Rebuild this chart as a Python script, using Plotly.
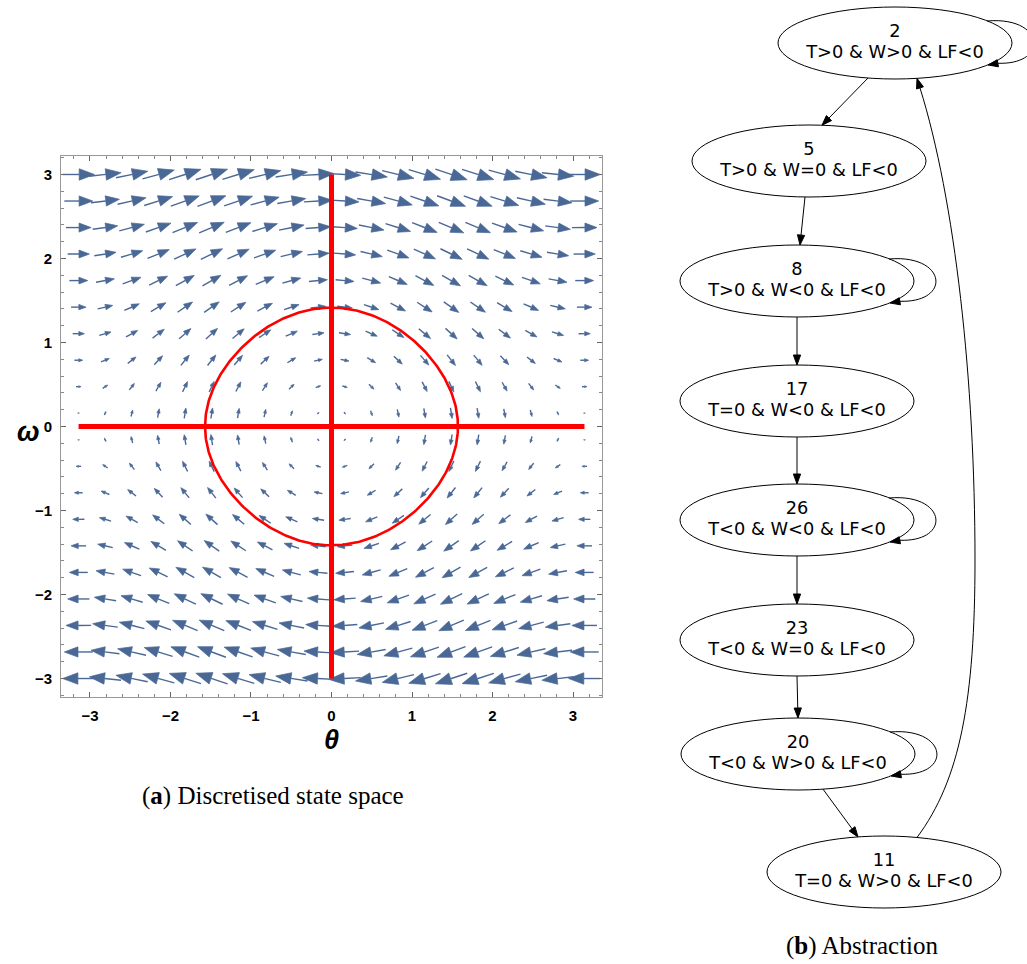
import numpy as np
import plotly.graph_objects as go

W, H = 1027, 964

# ---------------- data: left panel (pendulum state space) ----------------
theta_grid = [-3.142, -2.811, -2.480, -2.150, -1.819, -1.488, -1.157, -0.827, -0.496, -0.165,
              0.165, 0.496, 0.827, 1.157, 1.488, 1.819, 2.150, 2.480, 2.811, 3.142]
omega_grid = [-3.000, -2.684, -2.368, -2.053, -1.737, -1.421, -1.105, -0.789, -0.474, -0.158,
              0.158, 0.474, 0.789, 1.105, 1.421, 1.737, 2.053, 2.368, 2.684, 3.000]
lf_level = 1.0            # level set LF = w^2/2 + 1 - cos(t) drawn in red
theta_split = 0.0         # vertical red partition line (theta = 0)
omega_split = 0.0         # horizontal red partition line (omega = 0)
axis_ticks = [-3, -2, -1, 0, 1, 2, 3]
axis_tick_labels = ["−3", "−2", "−1", "0", "1", "2", "3"]

# ---------------- data: right panel (abstraction graph) ----------------
node_ids = ["2", "5", "8", "17", "26", "23", "20", "11"]
node_labels = ["T>0 & W>0 & LF<0", "T>0 & W=0 & LF<0", "T>0 & W<0 & LF<0",
               "T=0 & W<0 & LF<0", "T<0 & W<0 & LF<0", "T<0 & W=0 & LF<0",
               "T<0 & W>0 & LF<0", "T=0 & W>0 & LF<0"]
edges = [("2", "5"), ("5", "8"), ("8", "17"), ("17", "26"),
         ("26", "23"), ("23", "20"), ("20", "11"), ("11", "2")]
self_loops = ["2", "8", "26", "20"]

# ---------------- layout geometry (pixels) ----------------
PX0, PX1, PY0, PY1 = 61, 602, 156, 697
XR = (-3.36, 3.36)
YR = (-3.22, 3.22)
sx = (PX1 - PX0) / (XR[1] - XR[0])
sy = (PY1 - PY0) / (YR[1] - YR[0])

ARROW_COL = "#4a6896"

fig = go.Figure()

# vector field arrows (pendulum dynamics: theta' = omega, omega' = -sin theta)
shaft_x, shaft_y, head_x, head_y = [], [], [], []
for th in theta_grid:
    for om in omega_grid:
        u, v = om, -np.sin(th)
        mag = float(np.hypot(u, v))
        if mag < 1e-9:
            continue
        dx, dy = u / mag, v / mag
        L = 10.6 * mag
        tail = (th - dx * L / 2 / sx, om - dy * L / 2 / sy)
        tip = (th + dx * L / 2 / sx, om + dy * L / 2 / sy)
        hl, hw = 0.48 * L, 0.18 * L
        base = (tip[0] - dx * hl / sx, tip[1] - dy * hl / sy)
        nx, ny = -dy, dx
        p1 = (base[0] + nx * hw / sx, base[1] + ny * hw / sy)
        p2 = (base[0] - nx * hw / sx, base[1] - ny * hw / sy)
        shaft_x += [tail[0], base[0], None]
        shaft_y += [tail[1], base[1], None]
        head_x += [tip[0], p1[0], p2[0], tip[0], None]
        head_y += [tip[1], p1[1], p2[1], tip[1], None]

fig.add_trace(go.Scatter(x=shaft_x, y=shaft_y, mode="lines",
                         line=dict(color=ARROW_COL, width=1.4), hoverinfo="skip",
                         xaxis="x", yaxis="y"))
fig.add_trace(go.Scatter(x=head_x, y=head_y, mode="lines", fill="toself",
                         fillcolor=ARROW_COL, line=dict(color=ARROW_COL, width=0.7),
                         hoverinfo="skip", xaxis="x", yaxis="y"))

# red partition lines
fig.add_trace(go.Scatter(x=[theta_grid[0], theta_grid[-1]], y=[omega_split, omega_split],
                         mode="lines", line=dict(color="#ff0000", width=5),
                         hoverinfo="skip", xaxis="x", yaxis="y"))
fig.add_trace(go.Scatter(x=[theta_split, theta_split], y=[omega_grid[0], omega_grid[-1]],
                         mode="lines", line=dict(color="#ff0000", width=5),
                         hoverinfo="skip", xaxis="x", yaxis="y"))

# red level set of the Lyapunov function
th_max = np.arccos(1 - lf_level)
s = np.linspace(0, np.pi, 200)
th_top = -th_max * np.cos(s)
om_top = np.sqrt(np.clip(2 * (lf_level - 1 + np.cos(th_top)), 0, None))
cx = np.concatenate([th_top, th_top[::-1]])
cy = np.concatenate([om_top, -om_top[::-1]])
fig.add_trace(go.Scatter(x=cx, y=cy, mode="lines", line=dict(color="#ff0000", width=2.6),
                         hoverinfo="skip", xaxis="x", yaxis="y"))

tickfont = dict(family="Liberation Sans, Arial, sans-serif", size=15, color="black")
common_axis = dict(ticks="inside", ticklen=5, tickwidth=1, tickcolor="#666",
                   showline=True, linecolor="#999", linewidth=1, mirror="allticks",
                   showgrid=False, zeroline=False, tickfont=tickfont,
                   tickmode="array", tickvals=axis_ticks,
                   ticktext=[f"<b>{t}</b>" for t in axis_tick_labels], ticklabelstandoff=5,
                   minor=dict(ticks="inside", ticklen=3, tickcolor="#888", dtick=0.2,
                              tick0=0, showgrid=False),
                   fixedrange=True)

# ---------------- right panel: graph ----------------
GX0 = 650
pos = {"2": (895, 43), "5": (809, 161), "8": (797, 281), "17": (797, 401),
       "26": (797, 520), "23": (797, 640), "20": (798, 754), "11": (884, 872)}
RX, RY = 117, 36
shapes = []
for nid in node_ids:
    x0, y0 = pos[nid]
    shapes.append(dict(type="circle", xref="x2", yref="y2", x0=x0 - RX, x1=x0 + RX,
                       y0=y0 - RY, y1=y0 + RY, line=dict(color="black", width=1),
                       layer="above"))


def on_ellipse(nid, dx, side):
    x0, y0 = pos[nid]
    yy = RY * np.sqrt(max(0.0, 1 - (dx / RX) ** 2))
    return (x0 + dx, y0 + (yy if side == "bottom" else -yy))


def head(tip, frm, length=10.0, half=3.6):
    d = np.array(tip) - np.array(frm)
    d = d / np.linalg.norm(d)
    b = np.array(tip) - d * length
    n = np.array([-d[1], d[0]])
    p1, p2 = b + n * half, b - n * half
    path = f"M{tip[0]:.2f},{tip[1]:.2f} L{p1[0]:.2f},{p1[1]:.2f} L{p2[0]:.2f},{p2[1]:.2f} Z"
    return path, (b[0], b[1])


ports = {("2", "5"): (-27, 13), ("5", "8"): (-4, 3), ("8", "17"): (0, 0),
         ("17", "26"): (0, 0), ("26", "23"): (0, 0), ("23", "20"): (0, 0),
         ("20", "11"): (25, -26), ("11", "2"): (33, 22)}

for (a, b) in edges:
    so, do = ports[(a, b)]
    if (a, b) == ("11", "2"):
        src = on_ellipse(a, so, "top")
        tip = on_ellipse(b, do, "bottom")
        c1, c2, mid, c3, c4 = (960, 780), (975, 700), (975, 560), (975, 380), (955, 200)
        hp, base = head(tip, c4)
        path = (f"M{src[0]:.2f},{src[1]:.2f} C{c1[0]},{c1[1]} {c2[0]},{c2[1]} {mid[0]},{mid[1]} "
                f"C{c3[0]},{c3[1]} {c4[0]},{c4[1]} {base[0]:.2f},{base[1]:.2f}")
    else:
        src = on_ellipse(a, so, "bottom")
        tip = on_ellipse(b, do, "top")
        hp, base = head(tip, src)
        path = f"M{src[0]:.2f},{src[1]:.2f} L{base[0]:.2f},{base[1]:.2f}"
    shapes.append(dict(type="path", xref="x2", yref="y2", path=path,
                       line=dict(color="black", width=1), layer="above"))
    shapes.append(dict(type="path", xref="x2", yref="y2", path=hp, fillcolor="black",
                       line=dict(color="black", width=1), layer="above"))

for nid in self_loops:
    x0, y0 = pos[nid]
    S = (x0 + 92, y0 - 22)
    T = (x0 + 93, y0 + 22)
    hp, base = head(T, (x0 + 110, y0 + 19))
    path = (f"M{S[0]},{S[1]} C{x0 + 150},{y0 - 27} {x0 + 155},{y0 + 22} "
            f"{base[0]:.2f},{base[1]:.2f}")
    shapes.append(dict(type="path", xref="x2", yref="y2", path=path,
                       line=dict(color="black", width=1), layer="above"))
    shapes.append(dict(type="path", xref="x2", yref="y2", path=hp, fillcolor="black",
                       line=dict(color="black", width=1), layer="above"))

gfont = dict(family="DejaVu Sans", size=17.8, color="black")
fig.add_trace(go.Scatter(x=[pos[n][0] for n in node_ids], y=[pos[n][1] - 10 for n in node_ids],
                         text=node_ids, mode="text", textfont=gfont, hoverinfo="skip",
                         xaxis="x2", yaxis="y2"))
fig.add_trace(go.Scatter(x=[pos[n][0] for n in node_ids], y=[pos[n][1] + 11 for n in node_ids],
                         text=node_labels, mode="text", textfont=gfont, hoverinfo="skip",
                         xaxis="x2", yaxis="y2"))

ann_common = dict(xref="paper", yref="paper", showarrow=False, xanchor="center", yanchor="middle")
annotations = [
    dict(text="<b><i>ω</i></b>", x=28 / W, y=1 - 432 / H,
         font=dict(family="Liberation Sans, Arial", size=27, color="black"), **ann_common),
    dict(text="<b><i>θ</i></b>", x=331 / W, y=1 - 740 / H,
         font=dict(family="Liberation Sans, Arial", size=27, color="black"), **ann_common),
    dict(text="(<b>a</b>) Discretised state space", x=273 / W, y=1 - 796 / H,
         font=dict(family="Liberation Serif, Times New Roman, serif", size=25, color="black"),
         **ann_common),
    dict(text="(<b>b</b>) Abstraction", x=862 / W, y=1 - 946 / H,
         font=dict(family="Liberation Serif, Times New Roman, serif", size=25, color="black"),
         **ann_common),
]

fig.update_layout(
    width=W, height=H, margin=dict(l=0, r=0, t=0, b=0),
    paper_bgcolor="white", plot_bgcolor="rgba(0,0,0,0)", showlegend=False,
    xaxis=dict(domain=[PX0 / W, PX1 / W], range=list(XR), anchor="y", **common_axis),
    yaxis=dict(domain=[1 - PY1 / H, 1 - PY0 / H], range=list(YR), anchor="x", **common_axis),
    xaxis2=dict(domain=[GX0 / W, 1], range=[GX0, W], anchor="y2", visible=False, fixedrange=True),
    yaxis2=dict(domain=[0, 1], range=[H, 0], anchor="x2", visible=False, fixedrange=True),
    shapes=shapes, annotations=annotations,
)

fig.write_html("out.html")
